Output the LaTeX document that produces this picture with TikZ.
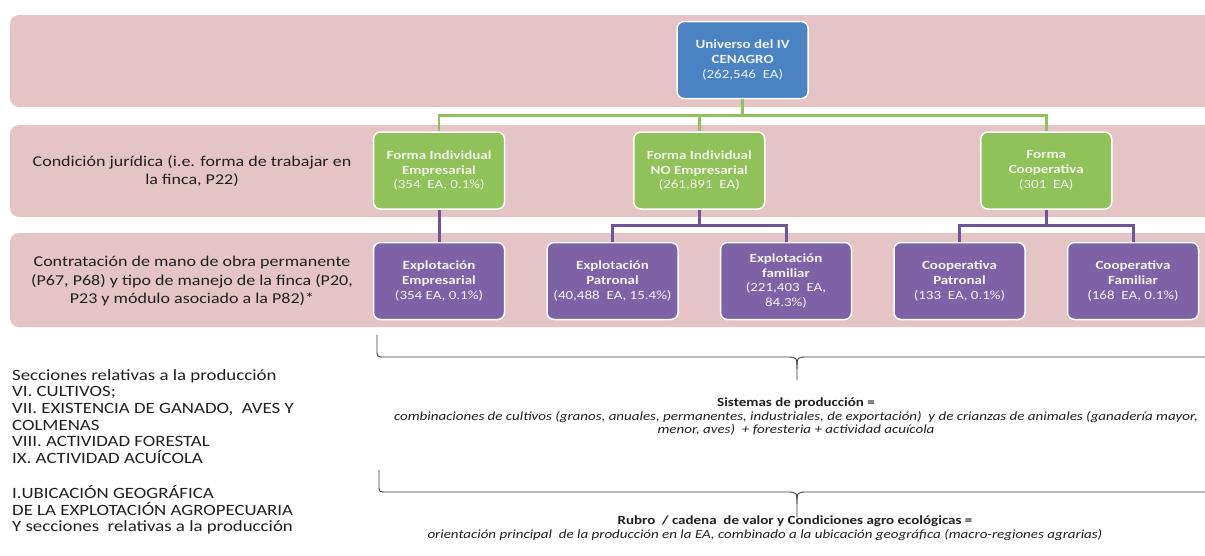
\documentclass[tikz,border=0pt]{standalone}
\usepackage{fontspec}
\setmainfont{Carlito}[FakeStretch=1.2]
\usetikzlibrary{positioning, calc}

\definecolor{bandpink}{RGB}{228,196,197}
\definecolor{ublue}{RGB}{74,130,196}
\definecolor{fgreen}{RGB}{143,194,88}
\definecolor{epurple}{RGB}{125,98,165}
\definecolor{plinkc}{RGB}{108,84,158}
\definecolor{textdark}{RGB}{32,32,32}
\definecolor{bracegray}{RGB}{60,60,60}

\newcommand{\bandfont}{\fontsize{15}{18.5}\selectfont}
\newcommand{\boxfont}{\fontsize{12.5}{14.7}\selectfont}
\newcommand{\leftfont}{\fontsize{15.7}{16.7}\selectfont}
\newcommand{\midfont}{\fontsize{12.5}{13.3}\selectfont}

\tikzset{
  band/.style={fill=bandpink, rounded corners=9pt},
  box/.style={draw=white, line width=1.5pt, rounded corners=7pt,
    minimum width=131pt, minimum height=77pt, inner sep=2pt,
    align=center, font=\boxfont},
  ubox/.style={box, fill=ublue, text=white!90!ublue},
  gbox/.style={box, fill=fgreen, text=white!88!fgreen},
  pbox/.style={box, fill=epurple, text=white!92!epurple},
  glink/.style={draw=fgreen, line width=2.5pt},
  plink/.style={draw=plinkc, line width=3pt},
  bandtext/.style={align=center, inner sep=0pt, font=\bandfont, text=textdark},
  lefttext/.style={align=left, inner sep=0pt, font=\leftfont, text=textdark},
  midhead/.style={inner sep=0pt, font=\midfont\bfseries, text=textdark},
  midbody/.style={align=center, inner sep=0pt, font=\midfont\itshape, text=textdark},
  brace/.style={draw=bracegray, line width=0.9pt},
}

\begin{document}
\begin{tikzpicture}[x=1pt, y=-1pt]
\useasboundingbox (0,0) rectangle (1205,555);

% bands
\fill[band] (10,15) rectangle (1222,107);
\fill[band] (10,125) rectangle (1222,217);
\fill[band] (10,233) rectangle (1222,327);

\node[bandtext] (cj) at (192,171) {Condición jurídica (i.e. forma de trabajar en\\la finca, P22)};
\node[bandtext] (cm) at (192,281) {Contratación de mano de obra permanente\\(P67, P68) y tipo de manejo de la finca (P20,\\P23 y módulo asociado a la P82)*};

% explotaciones
\node[pbox] (P1) at (439,281) {\textbf{Explotación}\\\textbf{Empresarial}\\(354 EA, 0.1\%)};
\node[pbox, right=41pt of P1] (P2) {\textbf{Explotación}\\\textbf{Patronal}\\(40,488\ \ EA, 15.4\%)};
\node[pbox, right=41pt of P2] (P3) {\textbf{Explotación}\\\textbf{familiar}\\(221,403\ \ EA,\\84.3\%)};
\node[pbox, right=41pt of P3] (P4) {\textbf{Cooperativa}\\\textbf{Patronal}\\(133\ \ EA, 0.1\%)};
\node[pbox, right=41pt of P4] (P5) {\textbf{Cooperativa}\\\textbf{Familiar}\\(168\ \ EA, 0.1\%)};

% formas
\coordinate (m23) at ($(P2.north)!.5!(P3.north)$);
\coordinate (m45) at ($(P4.north)!.5!(P5.north)$);
\node[gbox, above=32pt of P1] (G1) {\textbf{Forma Individual}\\\textbf{Empresarial}\\(354\ \ EA, 0.1\%)};
\node[gbox, above=32pt of m23] (G2) {\textbf{Forma Individual}\\\textbf{NO Empresarial}\\(261,891\ \ EA)};
\node[gbox, above=32pt of m45] (G3) {\textbf{Forma}\\\textbf{Cooperativa}\\(301\ \ EA)};

\coordinate (m13) at ($(G1.north)!.5!(G3.north)$);
\node[ubox, above=32pt of m13] (U) {\textbf{Universo del IV}\\\textbf{CENAGRO}\\(262,546\ \ EA)};

% connectors
\coordinate (gbus) at ($(U.south)!.5!(G2.north)$);
\coordinate (pbus) at ($(G2.south)!.5!(P2.north)$);
\foreach \g in {G1,G2,G3}
  \draw[glink] (U.south) -- (U.south |- gbus) -| (\g.north);
\draw[plink] (G1.south) -- (P1.north);
\foreach \p in {P2,P3}
  \draw[plink] (G2.south) -- (G2.south |- pbus) -| (\p.north);
\foreach \p in {P4,P5}
  \draw[plink] (G3.south) -- (G3.south |- pbus) -| (\p.north);

% secciones
\node[lefttext, anchor=north west] (secc) at (12,369) {Secciones relativas a la producción\\VI. CULTIVOS;\\VII. EXISTENCIA DE GANADO,\ \ AVES Y\\COLMENAS\\VIII. ACTIVIDAD FORESTAL\\IX. ACTIVIDAD ACUÍCOLA\\[18pt]I.UBICACIÓN GEOGRÁFICA\\DE LA EXPLOTACIÓN AGROPECUARIA\\Y secciones\ \ relativas a la producción};

% llaves
\draw[brace] (377,335) -- (377,350) .. controls (377,357) .. (385,357) -- (786,357)
  .. controls (797,357) .. (797,369) -- (797,380);
\draw[brace] (1217,335) -- (1217,350) .. controls (1217,357) .. (1209,357) -- (808,357)
  .. controls (797,357) .. (797,369);
\draw[brace] (379,470) -- (379,485) .. controls (379,492) .. (387,492) -- (786,492)
  .. controls (797,492) .. (797,504) -- (797,517);
\draw[brace] (1215,470) -- (1215,485) .. controls (1215,492) .. (1207,492) -- (808,492)
  .. controls (797,492) .. (797,504);

\node[midhead] (sist) at (796,403) {Sistemas de producción =};
\node[midbody, below=2.5pt of sist] (comb) {combinaciones de cultivos (granos, anuales, permanentes, industriales, de exportación)\ \ y de crianzas de animales (ganadería mayor,\\menor, aves)\ \ + foresteria + actividad acuícola};
\node[midhead] (rubro) at (795,521) {Rubro\ \ / cadena\ \ de valor y Condiciones agro ecológicas =};
\node[midbody] (orient) at (765,535) {orientación principal\ \ de la producción en la EA, combinado a la ubicación geográfica (macro-regiones agrarias)};
\end{tikzpicture}
\end{document}
